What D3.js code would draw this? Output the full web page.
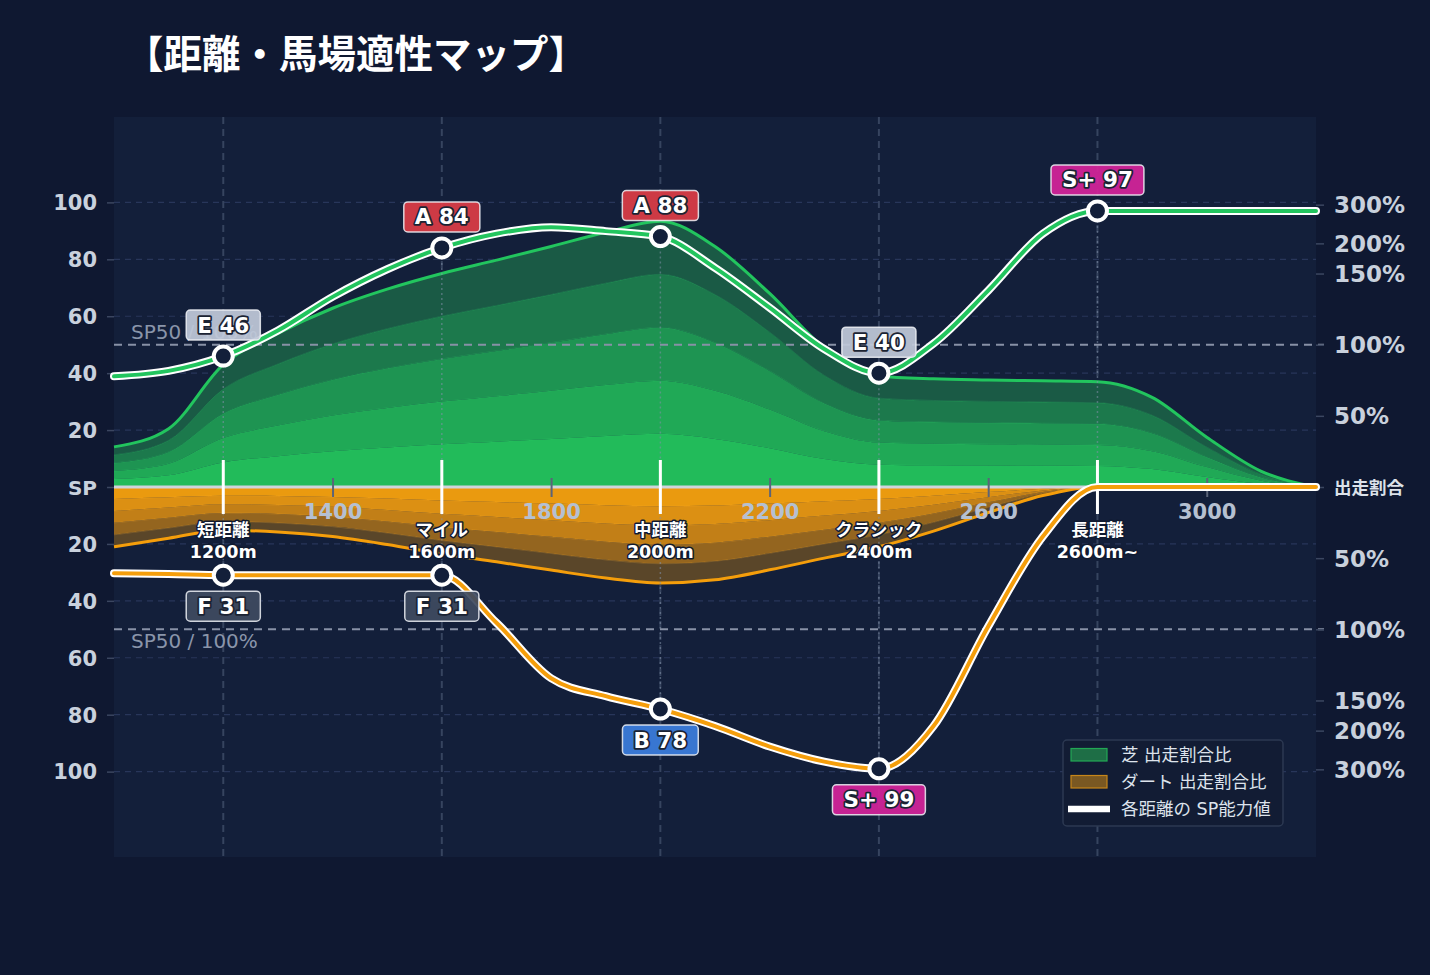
<!DOCTYPE html>
<html><head><meta charset="utf-8">
<script src="https://cdn.jsdelivr.net/npm/d3@7"></script>
<style>
html,body{margin:0;padding:0;background:#0f1831;}
svg{display:block;}
text{font-family:"DejaVu Sans","Noto Sans CJK JP",sans-serif;}
</style></head><body>
<svg id="c" width="1430" height="975"></svg>
<script>
// ---------- data ----------
const chartTitle = "【距離・馬場適性マップ】";
const distances = [1000,1100,1200,1300,1400,1500,1600,1700,1800,1900,2000,2100,2200,2300,2400,2500,2600,2700,2800,2900,3000,3100,3200];
// 芝 出走割合 (plotted on the share axis, SP units)
const turfShare = [14.1,20.5,43,54,62.8,69.5,75,79.7,84.5,89.5,93.4,84.5,68,49,39,38,37.6,37.3,37,31.5,17.5,5.5,0];
// ダート 出走割合
const dirtShare = [21,18,15.2,15.8,17.4,20.2,23.5,26.3,29.2,32,33.7,32.6,29.1,25,21,15.5,9,3,0,0,0,0,0];
// SP能力値 curves
const turfSP = [38.9,40.8,46,55,66.8,76.5,84,89,91.3,89.9,88,77,63,48.5,40,50.4,69,89,97,97,97,97,97];
const dirtSP = [30.3,30.6,31,31,31,31,31,47.7,67.2,73.5,78,84,91.2,96.5,99,84,49,17.4,0,0,0,0,0];

const catDistances = [1200,1600,2000,2400,2800];
const catNames = ["短距離","マイル","中距離","クラシック","長距離"];
const catLabels = ["1200m","1600m","2000m","2400m","2600m~"];

const turfScoreDist = [1200,1600,2000,2400,2800];
const turfScores = [46,84,88,40,97];
const turfGrades = ["E","A","A","E","S+"];
const dirtScoreDist = [1200,1600,2000,2400];
const dirtScores = [31,31,78,99];
const dirtGrades = ["F","F","B","S+"];

const xTickValues = [1400,1800,2200,2600,3000];
const spTickValues = [20,40,60,80,100];
const ratioTickValues = [0.5,1,1.5,2,3];
const ratioTickLabels = ["50%","100%","150%","200%","300%"];
const sp50Value = 50;
const legendLabels = ["芝 出走割合比","ダート 出走割合比","各距離の SP能力値"];

// ---------- layout ----------
const W=1430,H=975, L=114,R=1316,T=117,B=857;
const svg=d3.select("#c");
const x=d3.scaleLinear().domain([1000,3200]).range([L,R]);
const y=d3.scaleLinear().domain([-130,130]).range([B,T]);
// share axis (polylinear) ratio -> SP units
const ratioDomain=[0,0.5,1,1.5,2,3], ratioUnits=[0,25,50,75,85.6,99.2];
const ratioY=d3.scaleLinear()
  .domain([...ratioDomain.slice(1).map(d=>-d).reverse(), ...ratioDomain])
  .range([...ratioUnits.slice(1).map(u=>y(-u)).reverse(), ...ratioUnits.map(u=>y(u))]);

const gradeColors={"S+":"#d4239a","A":"#dc3c46","B":"#3b7ddd","E":"#c0c8d8","F":"#3e4a60"};

svg.append("rect").attr("width",W).attr("height",H).attr("fill","#0f1831");
svg.append("rect").attr("x",L).attr("y",T).attr("width",R-L).attr("height",B-T).attr("fill","#131f3a");

svg.append("text").attr("x",125).attr("y",54).attr("dominant-baseline","central")
  .attr("font-family","'Noto Sans CJK JP',sans-serif").attr("font-weight",700)
  .attr("font-size",38.5).attr("fill","#ffffff").text(chartTitle);

// grid
const gridVals=spTickValues.flatMap(v=>[v,-v]);
svg.append("g").selectAll("line").data(gridVals).join("line")
  .attr("x1",L).attr("x2",R).attr("y1",d=>y(d)).attr("y2",d=>y(d))
  .attr("stroke","#28365a").attr("stroke-width",1.2).attr("stroke-dasharray","6,5");
svg.append("g").selectAll("line").data(catDistances).join("line")
  .attr("x1",d=>x(d)).attr("x2",d=>x(d)).attr("y1",T).attr("y2",B)
  .attr("stroke","#36445f").attr("stroke-width",2).attr("stroke-dasharray","7,5");

// area bands
const fr=[0,0.2,0.4,0.6,0.8,1.0];
const turfBandColors=["#22bb5a","#20a956","#1e9452","#1c794c","#1a5a45"];
const dirtBandColors=["#ea9a0f","#dc9013","#c27f17","#94651f","#5a4629"];
const idx=distances.map((d,i)=>i);
function bands(vals,sign,colors){
  const g=svg.append("g");
  for(let k=0;k<5;k++){
    const lo=fr[k],hi=fr[k+1];
    const ar=d3.area().curve(d3.curveMonotoneX)
      .x(i=>x(distances[i])).y0(i=>y(sign*lo*vals[i])).y1(i=>y(sign*hi*vals[i]));
    g.append("path").attr("d",ar(idx)).attr("fill",colors[k]);
  }
  for(let k=1;k<5;k++){
    const ln=d3.line().curve(d3.curveMonotoneX).x(i=>x(distances[i])).y(i=>y(sign*fr[k]*vals[i]));
    g.append("path").attr("d",ln(idx)).attr("fill","none")
      .attr("stroke",sign>0?"#2fd36b":"#ffb02a").attr("stroke-opacity",0.25).attr("stroke-width",1);
  }
}
bands(turfShare,1,turfBandColors);
bands(dirtShare,-1,dirtBandColors);
svg.append("path").attr("d",d3.line().curve(d3.curveMonotoneX).x(i=>x(distances[i])).y(i=>y(turfShare[i]))(idx))
  .attr("fill","none").attr("stroke","#22c55e").attr("stroke-width",3);
svg.append("path").attr("d",d3.line().curve(d3.curveMonotoneX).x(i=>x(distances[i])).y(i=>y(-dirtShare[i]))(idx))
  .attr("fill","none").attr("stroke","#f59e0b").attr("stroke-width",3);

// SP50 lines
[sp50Value,-sp50Value].forEach(v=>{
  svg.append("line").attr("x1",L).attr("x2",R+8).attr("y1",y(v)).attr("y2",y(v))
    .attr("stroke","#8891a6").attr("stroke-width",2).attr("stroke-dasharray","8,6");
});
svg.append("text").attr("x",131).attr("y",y(sp50Value)-13).attr("dominant-baseline","central")
  .attr("font-size",20).attr("fill","#8a95aa").text("SP50 / 100%");
svg.append("text").attr("x",131).attr("y",y(-sp50Value)+12).attr("dominant-baseline","central")
  .attr("font-size",20).attr("fill","#8a95aa").text("SP50 / 100%");

// baseline
svg.append("line").attr("x1",L).attr("x2",R).attr("y1",y(0)).attr("y2",y(0))
  .attr("stroke","#cfd4dc").attr("stroke-width",3);

// drop lines
const dl=svg.append("g");
turfScoreDist.forEach((d,i)=>dl.append("line").attr("x1",x(d)).attr("x2",x(d)).attr("y1",y(turfScores[i])).attr("y2",y(0))
  .attr("stroke","#8290a8").attr("stroke-opacity",0.55).attr("stroke-width",1.5).attr("stroke-dasharray","2,3"));
dirtScoreDist.forEach((d,i)=>dl.append("line").attr("x1",x(d)).attr("x2",x(d)).attr("y1",y(-dirtScores[i])).attr("y2",y(0))
  .attr("stroke","#8290a8").attr("stroke-opacity",0.55).attr("stroke-width",1.5).attr("stroke-dasharray","2,3"));

// x axis
const xa=svg.append("g").attr("transform",`translate(0,${y(0)})`)
  .call(d3.axisBottom(x).tickValues(xTickValues).tickFormat(d3.format("d")));
xa.select(".domain").remove();
xa.selectAll(".tick line").attr("y1",-9).attr("y2",10).attr("stroke","#5b6479").attr("stroke-width",2);
xa.selectAll(".tick text").attr("y",25).attr("dy","0.35em").attr("font-size",21).attr("font-weight",700)
  .attr("fill","#b5c0d1").attr("font-family","DejaVu Sans");
// category ticks
svg.append("g").selectAll("line").data(catDistances).join("line")
  .attr("x1",d=>x(d)).attr("x2",d=>x(d)).attr("y1",y(0)-27).attr("y2",y(0)+27)
  .attr("stroke","#ffffff").attr("stroke-width",3);

// left axis
const ya=svg.append("g").attr("transform",`translate(${L},0)`)
  .call(d3.axisLeft(y).tickValues([...spTickValues.map(v=>-v),0,...spTickValues]).tickSize(7).tickPadding(10)
  .tickFormat(d=>d===0?"SP":Math.abs(d)));
ya.select(".domain").remove();
ya.selectAll(".tick line").attr("stroke","#3b4660").attr("stroke-width",1.5);
ya.selectAll(".tick text").attr("font-size",d=>d===0?20:21).attr("font-weight",700).attr("fill","#c9d1dd")
  .attr("font-family","DejaVu Sans").attr("dy","0.35em");

// right axis
const rv=[...ratioTickValues.map(v=>-v),0,...ratioTickValues];
const ra=svg.append("g").attr("transform",`translate(${R},0)`)
  .call(d3.axisRight(ratioY).tickValues(rv).tickSize(8).tickPadding(10)
  .tickFormat(d=>d===0?"出走割合":ratioTickLabels[ratioTickValues.indexOf(Math.abs(d))]));
ra.select(".domain").remove();
ra.selectAll(".tick line").attr("stroke","#3b4660").attr("stroke-width",1.5);
ra.selectAll(".tick text").attr("font-size",d=>d===0?17.5:23).attr("font-weight",700)
  .attr("fill",d=>d===0?"#dce2ea":"#c8d0dc").attr("dy","0.35em");

// SP lines
function spLine(vals,sign,color){
  const ln=d3.line().curve(d3.curveMonotoneX).x(i=>x(distances[i])).y(i=>y(sign*vals[i]));
  svg.append("path").attr("d",ln(idx)).attr("fill","none").attr("stroke","#ffffff").attr("stroke-width",8).attr("stroke-linecap","round");
  svg.append("path").attr("d",ln(idx)).attr("fill","none").attr("stroke",color).attr("stroke-width",4).attr("stroke-linecap","round");
}
spLine(dirtSP,-1,"#f59e0b");
spLine(turfSP,1,"#22c55e");

// category labels
const cl=svg.append("g");
catDistances.forEach((d,i)=>{
  [[catNames[i],y(0)+43],[catLabels[i],y(0)+65]].forEach(([t,yy])=>{
    cl.append("text").attr("x",x(d)).attr("y",yy).attr("text-anchor","middle").attr("dominant-baseline","central")
      .attr("font-size",17.5).attr("font-weight",700).attr("fill","#ffffff")
      .attr("stroke","#101a30").attr("stroke-width",3).attr("stroke-linejoin","round").attr("paint-order","stroke").text(t);
  });
});

// points
const pts=svg.append("g");
turfScoreDist.forEach((d,i)=>pts.append("circle").attr("cx",x(d)).attr("cy",y(turfScores[i])).attr("r",9.5)
  .attr("fill","#131f3a").attr("stroke","#ffffff").attr("stroke-width",4));
dirtScoreDist.forEach((d,i)=>pts.append("circle").attr("cx",x(d)).attr("cy",y(-dirtScores[i])).attr("r",9.5)
  .attr("fill","#131f3a").attr("stroke","#ffffff").attr("stroke-width",4));

// badges
function badge(cx,cy,grade,score){
  const g=svg.append("g");
  const rect=g.append("rect");
  const t=g.append("text").attr("x",cx).attr("y",cy).attr("text-anchor","middle").attr("dominant-baseline","central")
    .attr("font-size",21.5).attr("font-weight",700).attr("fill","#ffffff")
    .attr("stroke","#1b2333").attr("stroke-width",3.5).attr("stroke-linejoin","round").attr("paint-order","stroke")
    .text(grade+" "+score);
  const w=t.node().getComputedTextLength()+22;
  rect.attr("x",cx-w/2).attr("y",cy-15).attr("width",w).attr("height",30).attr("rx",4)
    .attr("fill",gradeColors[grade]).attr("fill-opacity",0.93)
    .attr("stroke","#eef1f6").attr("stroke-opacity",0.85).attr("stroke-width",1.5);
}
turfScoreDist.forEach((d,i)=>badge(x(d),y(turfScores[i])-31,turfGrades[i],turfScores[i]));
dirtScoreDist.forEach((d,i)=>badge(x(d),y(-dirtScores[i])+31,dirtGrades[i],dirtScores[i]));

// legend
const lg=svg.append("g");
lg.append("rect").attr("x",1063).attr("y",740).attr("width",220).attr("height",86).attr("rx",4)
  .attr("fill","#121c34").attr("stroke","#2c3952").attr("stroke-width",1.5);
lg.append("rect").attr("x",1071).attr("y",748.5).attr("width",36).attr("height",12.5)
  .attr("fill","#1e6e46").attr("stroke","#22a855").attr("stroke-width",1.2);
lg.append("rect").attr("x",1071).attr("y",775.5).attr("width",36).attr("height",12.5)
  .attr("fill","#7a5822").attr("stroke","#c7861a").attr("stroke-width",1.2);
lg.append("line").attr("x1",1068).attr("x2",1110).attr("y1",809).attr("y2",809).attr("stroke","#ffffff").attr("stroke-width",6.5);
legendLabels.forEach((t,i)=>lg.append("text").attr("x",1121).attr("y",755+i*27).attr("dominant-baseline","central")
  .attr("font-size",17.5).attr("fill","#dde3ec").text(t));
</script>
</body></html>
